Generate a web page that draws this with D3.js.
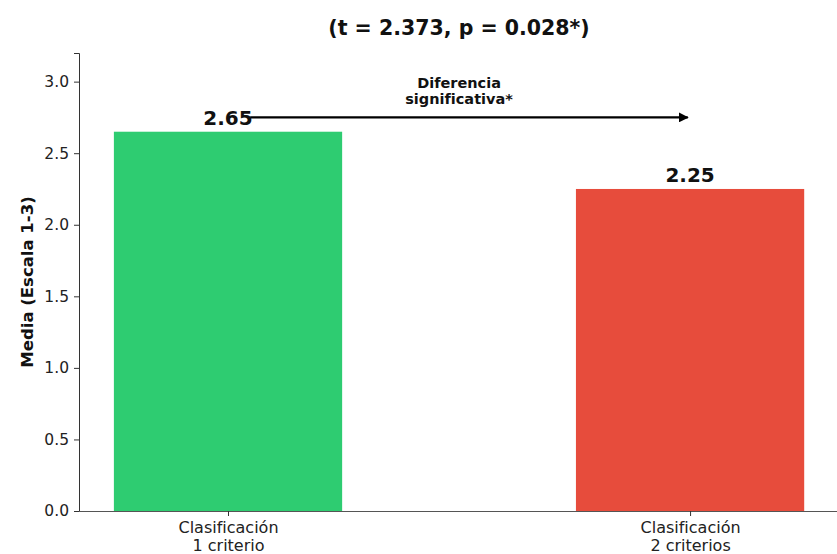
<!doctype html>
<html lang="es">
<head>
  <meta charset="UTF-8">
  <script src="https://cdn.jsdelivr.net/npm/d3@7"></script>
  <title>Media</title>
  <style>
    body{ margin:0; background:#fff; }
    .chart svg{ display:block; font-family:"DejaVu Sans", sans-serif; }
  </style>
</head>
<body>
  <div class="chart"></div>
  <script>
    const categories = [['Clasificación', '1 criterio'], ['Clasificación', '2 criterios']];
    const means = [2.65, 2.25];
    const barColors = ['#2ecc71', '#e74c3c'];
    const yTicks = [0, 0.5, 1.0, 1.5, 2.0, 2.5, 3.0];
    const titleText = '(t = 2.373, p = 0.028*)';
    const noteLines = ['Diferencia', 'significativa*'];

    const W = 837, H = 554;
    const margin = {top: 53, right: 0, bottom: 43, left: 79};
    const width = W - margin.left - margin.right, height = H - margin.top - margin.bottom;

    const svg = d3.select('.chart').append('svg').attr('width', W).attr('height', H);
    const g = svg.append('g').attr('transform', `translate(${margin.left},${margin.top})`);

    const x = d3.scaleLinear().domain([-0.3225, 1.318]).range([0, width]);
    const y = d3.scaleLinear().domain([0, 3.2]).range([height, 0]);
    const bw = x(0.494) - x(0);

    // bars
    g.selectAll('rect.bar').data(means).enter().append('rect')
      .attr('x', (d, i) => x(i) - bw / 2).attr('width', bw)
      .attr('y', d => y(d)).attr('height', d => height - y(d))
      .attr('fill', (d, i) => barColors[i]);

    // y axis
    const yAxis = g.append('g').call(d3.axisLeft(y).tickValues(yTicks).tickFormat(d3.format('.1f')).tickSize(5).tickPadding(5));
    yAxis.select('.domain').attr('stroke', '#333').attr('stroke-width', 1);
    yAxis.selectAll('.tick line').attr('stroke', '#333');
    yAxis.selectAll('.tick text').attr('font-size', 15.5).attr('fill', '#222').attr('font-family', '"DejaVu Sans", sans-serif');

    // x axis
    const xAxis = g.append('g').attr('transform', `translate(0,${height})`)
      .call(d3.axisBottom(x).tickValues([0, 1]).tickFormat('').tickSize(5).tickSizeOuter(0));
    xAxis.select('.domain').attr('stroke', '#555').attr('stroke-width', 1.2);
    xAxis.selectAll('.tick line').attr('stroke', '#333');
    xAxis.selectAll('.tick').each(function (d) {
      const t = d3.select(this).append('text').attr('fill', '#222').attr('font-size', 16)
        .attr('text-anchor', 'middle').attr('font-family', '"DejaVu Sans", sans-serif');
      categories[d].forEach((s, k) => t.append('tspan').attr('x', 0).attr('y', 22 + k * 18).text(s));
    });

    // value labels
    g.selectAll('text.val').data(means).enter().append('text')
      .attr('x', (d, i) => x(i)).attr('y', d => y(d) - 7)
      .attr('text-anchor', 'middle').attr('font-size', 20).attr('font-weight', 'bold')
      .attr('fill', '#111').text(d => d.toFixed(2));

    // arrow
    svg.append('defs').append('marker').attr('id', 'ah')
      .attr('viewBox', '0 0 10 10').attr('refX', 9).attr('refY', 5)
      .attr('markerWidth', 4.5).attr('markerHeight', 4.5).attr('orient', 'auto')
      .append('path').attr('d', 'M0,0L10,5L0,10Z').attr('fill', '#000');
    g.append('line').attr('x1', x(0.048)).attr('x2', x(0.995))
      .attr('y1', y(2.75)).attr('y2', y(2.75))
      .attr('stroke', '#000').attr('stroke-width', 2.2).attr('marker-end', 'url(#ah)');
    g.append('text').attr('text-anchor', 'middle').attr('font-size', 14.5).attr('font-weight', 'bold')
      .attr('fill', '#111')
      .selectAll('tspan').data(noteLines).enter().append('tspan')
      .attr('x', x(0.5)).attr('y', (d, i) => y(2.75) - 29 + i * 15.5).text(d => d);

    // y label
    svg.append('text').attr('transform', `translate(33,${margin.top + height / 2}) rotate(-90)`)
      .attr('text-anchor', 'middle').attr('font-size', 16.5).attr('font-weight', 'bold')
      .attr('fill', '#111').text('Media (Escala 1-3)');

    // title
    svg.append('text').attr('x', 459).attr('y', 35).attr('text-anchor', 'middle')
      .attr('font-size', 20.5).attr('font-weight', 'bold').attr('fill', '#111').text(titleText);
  </script>
</body>
</html>
